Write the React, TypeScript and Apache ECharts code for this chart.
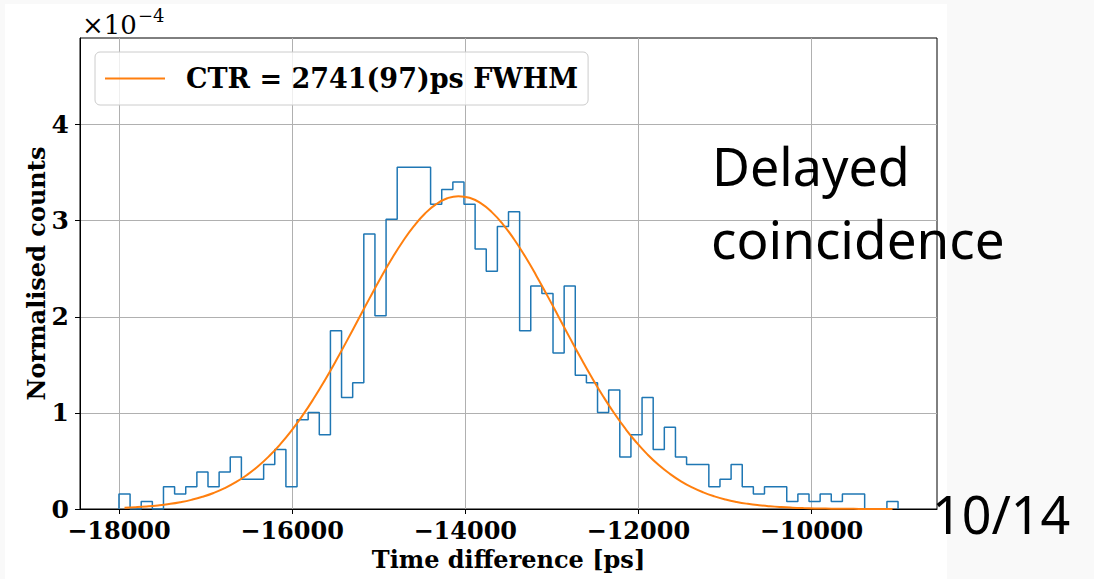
import { useEffect, useRef } from 'react';
import * as echarts from 'echarts';

// Histogram: 70 bins from -18000 ps to -9000 ps, values in units of 1e-4
const BIN_START = -18000;
const BIN_END = -9000;
const HIST_VALUES = [
  0.156, 0, 0.078, 0, 0.232, 0.156, 0.232, 0.386, 0.232, 0.386,
  0.541, 0.309, 0.309, 0.464, 0.618, 0.232, 0.928, 1.005, 0.773, 1.855,
  1.160, 1.314, 2.860, 2.010, 3.015, 3.556, 3.556, 3.556, 3.170, 3.325,
  3.402, 3.170, 2.706, 2.474, 2.938, 3.093, 1.855, 2.319, 2.242, 1.624,
  2.319, 1.392, 1.314, 1.005, 1.237, 0.541, 0.773, 1.160, 0.618, 0.850,
  0.541, 0.464, 0.464, 0.232, 0.309, 0.464, 0.232, 0.156, 0.232, 0.232,
  0.078, 0.156, 0.078, 0.156, 0.078, 0.156, 0.156, 0, 0, 0.078,
];

const FIT_MU = -14070;
const FIT_FWHM = 2741;
const FIT_AMP = 3.255;

const X_TICKS = [-18000, -16000, -14000, -12000, -10000];
const Y_TICKS = [0, 1, 2, 3, 4];
const LEGEND_LABEL = 'CTR = 2741(97)ps FWHM';

const SERIF = 'DejaVu Serif';
const SANS = 'Noto Sans';

export default function App() {
  const ref = useRef<HTMLDivElement>(null);

  useEffect(() => {
    const chart = echarts.init(ref.current!, null, { renderer: 'svg' });
    const n = HIST_VALUES.length;
    const w = (BIN_END - BIN_START) / n;
    const histData: number[][] = [[BIN_START, 0]];
    HIST_VALUES.forEach((v, i) => histData.push([BIN_START + i * w, v]));
    histData.push([BIN_END, HIST_VALUES[n - 1]]);
    histData.push([BIN_END, 0]);

    const sigma = FIT_FWHM / (2 * Math.sqrt(2 * Math.log(2)));
    const fitData = HIST_VALUES.map((_, i) => {
      const x = BIN_START + (i + 0.5) * w;
      return [x, FIT_AMP * Math.exp(-((x - FIT_MU) ** 2) / (2 * sigma * sigma))];
    });

    const fmt = (v: number) => (v < 0 ? '\u2212' : '') + Math.abs(v);
    const labelFont = { fontFamily: SERIF, fontWeight: 'bold' as const, fontSize: 25, color: '#000' };

    chart.setOption({
      animation: false,
      backgroundColor: 'transparent',
      grid: {
        left: 80, top: 38, right: 157, bottom: 70,
        show: true, borderColor: '#000', borderWidth: 1, backgroundColor: 'transparent',
      },
      legend: {
        show: true,
        left: 95, top: 52,
        padding: [13, 10, 13, 10],
        icon: 'rect',
        itemWidth: 60, itemHeight: 2,
        backgroundColor: 'rgba(255,255,255,0.8)',
        borderColor: '#cccccc', borderWidth: 1, borderRadius: 5,
        textStyle: { fontFamily: SERIF, fontWeight: 'bold', fontSize: 27, color: '#000', padding: [0, 0, 0, 16] },
        data: [LEGEND_LABEL],
      },
      xAxis: {
        type: 'value', min: -18450, max: -8550,
        axisLine: { show: true, onZero: false, lineStyle: { color: '#000', width: 1 } },
        axisTick: { show: true, customValues: X_TICKS, length: 5, lineStyle: { color: '#000' } },
        axisLabel: { customValues: X_TICKS, formatter: fmt, margin: 10, lineHeight: 22, ...labelFont, fontSize: 24 },
        splitLine: { show: true, lineStyle: { color: '#b0b0b0', width: 1 } },
        name: 'Time difference [ps]', nameLocation: 'middle', nameGap: 38, nameMoveOverlap: false,
        nameTextStyle: { ...labelFont, fontSize: 24 },
      },
      yAxis: {
        type: 'value', min: 0, max: 4.9, interval: 1,
        axisLine: { show: true, lineStyle: { color: '#000', width: 1 } },
        axisTick: { show: true, customValues: Y_TICKS, length: 5, lineStyle: { color: '#000' } },
        axisLabel: { customValues: Y_TICKS, margin: 11, lineHeight: 16, ...labelFont },
        splitLine: { show: true, lineStyle: { color: '#b0b0b0', width: 1 } },
        name: 'Normalised counts', nameLocation: 'middle', nameGap: 32, nameMoveOverlap: false,
        nameTextStyle: { ...labelFont, fontSize: 24 },
      },
      series: [
        {
          type: 'line', name: 'hist', data: histData, step: 'end', symbol: 'none',
          lineStyle: { color: '#1f77b4', width: 1.5 }, itemStyle: { color: '#1f77b4' }, z: 2,
        },
        {
          type: 'line', name: LEGEND_LABEL, data: fitData, smooth: true, symbol: 'none',
          lineStyle: { color: '#ff7f0e', width: 2 }, itemStyle: { color: '#ff7f0e' }, z: 3,
        },
      ],
      graphic: [
        { type: 'rect', z: -10, shape: { x: 5, y: 4, width: 942, height: 580 }, style: { fill: '#ffffff' } },
        { type: 'text', z: 100, x: 82, y: 25, style: { text: '\u00d710', font: `26px "${SERIF}"`, fill: '#000', verticalAlign: 'middle' } },
        { type: 'text', z: 100, x: 138, y: 15, style: { text: '\u22124', font: `18px "${SERIF}"`, fill: '#000', verticalAlign: 'middle' } },
        { type: 'text', z: 100, x: 712, y: 165, style: { text: 'Delayed', font: `52px "${SANS}"`, fill: '#000', verticalAlign: 'middle' } },
        { type: 'text', z: 100, x: 711, y: 238, style: { text: 'coincidence', font: `53px "${SANS}"`, fill: '#000', verticalAlign: 'middle' } },
        { type: 'text', z: 100, x: 932, y: 513, style: { text: '10/14', font: `52px "${SANS}"`, fill: '#000', verticalAlign: 'middle' } },
      ],
    });
    return () => chart.dispose();
  }, []);

  return (
    <div
      ref={ref}
      style={{ position: 'fixed', left: 0, top: 0, width: 1094, height: 579, background: '#f9f9f9' }}
    />
  );
}
